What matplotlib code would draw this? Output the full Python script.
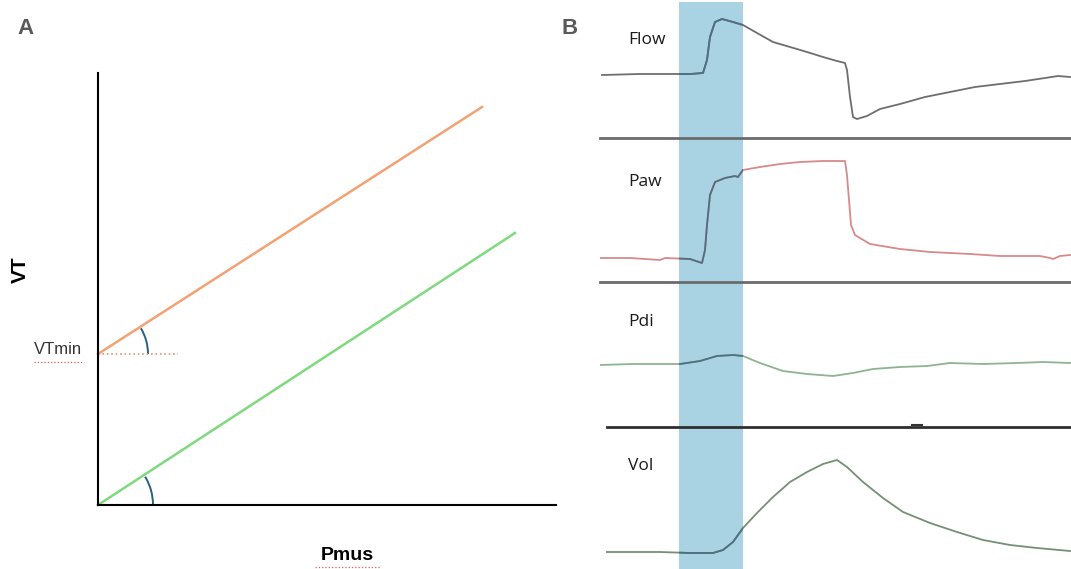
import numpy as np
import matplotlib
matplotlib.use("Agg")
import matplotlib.pyplot as plt
from matplotlib.patches import Arc, Rectangle

# =========================
# DATA
# =========================
# panel A: tidal volume vs muscle pressure (arbitrary units)
pmus_support = [0, 384]
vt_support = [151, 398]
pmus_nosupport = [0, 417]
vt_nosupport = [0, 272]
vtmin = 151

# panel B: ventilator traces (time in samples, amplitude in arbitrary units)
flow_t = [2, 40, 80, 90, 103, 107, 110, 115, 122, 133, 143, 157, 173, 190, 207, 223,
          237, 245, 247, 250, 253, 257, 267, 280, 300, 325, 350, 375, 400, 425,
          445, 458, 470]
flow_v = [63, 64, 64, 64, 65, 78, 101, 116, 119, 116, 113, 105, 96, 91, 86, 81,
          77, 75, 68, 41, 21, 19, 22, 29, 34, 41, 46, 51, 54, 57,
          60, 62, 61]

paw_t = [0, 30, 60, 65, 90, 102, 105, 107, 110, 115, 125, 135, 138, 143, 160, 180,
         200, 223, 245, 247, 249, 251, 255, 270, 300, 330, 370, 400, 440, 450, 453,
         460, 470]
paw_v = [24, 24, 22, 24, 23, 19, 32, 57, 87, 100, 104, 106, 105, 112, 115, 118,
         120, 121, 121, 107, 82, 57, 47, 38, 33, 30, 28, 26, 26, 24, 23,
         26, 27]

pdi_t = [0, 33, 67, 80, 100, 117, 133, 143, 160, 183, 207, 233, 253, 273, 300, 327,
         350, 383, 417, 443, 470]
pdi_v = [62, 63, 63, 63, 66, 71, 72, 71, 64, 56, 53, 51, 54, 58, 60, 61,
         64, 63, 64, 65, 64]

vol_t = [7, 60, 90, 113, 123, 133, 143, 157, 173, 190, 207, 223, 237, 247, 263, 283,
         303, 330, 357, 383, 410, 437, 470]
vol_v = [17, 17, 16, 16, 19, 27, 41, 56, 72, 87, 97, 105, 109, 102, 87, 71,
         57, 46, 37, 29, 24, 21, 18]

traces = [
    ("Flow", flow_t, flow_v, "#6e6e6e"),
    ("Paw", paw_t, paw_v, "#d68a8a"),
    ("Pdi", pdi_t, pdi_v, "#8fb38f"),
    ("Vol", vol_t, vol_v, "#758f75"),
]
trigger_window = (79, 143)

# =========================
# FIGURE
# =========================
W, H = 1071, 569
fig = plt.figure(figsize=(W / 100, H / 100), dpi=100)


def box(left, top, right, bottom):
    return [left / W, 1 - bottom / H, (right - left) / W, (bottom - top) / H]


def fx(x):
    return x / W


def fy(y):
    return 1 - y / H


# ---- panel A ----
ax = fig.add_axes(box(98, 73, 556, 505))
ax.set_xlim(0, 458)
ax.set_ylim(0, 432)
for s in ["top", "right"]:
    ax.spines[s].set_visible(False)
for s in ["left", "bottom"]:
    ax.spines[s].set_linewidth(1.5)
    ax.spines[s].set_color("black")
ax.set_xticks([])
ax.set_yticks([])

ax.plot(pmus_support, vt_support, color="#f2a273", lw=1.8, clip_on=False)
ax.plot(pmus_nosupport, vt_nosupport, color="#7fd97f", lw=1.8, clip_on=False)
ax.plot([0, 80], [vtmin, vtmin], color="#e8946a", lw=1.2, ls=":")

ax.add_patch(Arc((0, vtmin), 100, 100, theta1=0, theta2=31, color="#2b5f7e", lw=1.4))
ax.add_patch(Arc((0, 0), 110, 110, theta1=0, theta2=31, color="#2b5f7e", lw=1.4))

fig.text(fx(25), fy(28), "A", fontsize=16, fontweight="bold", color="#595959",
         ha="center", va="center", family="Liberation Sans")
fig.text(fx(20), fy(270), "VT", fontsize=15, fontweight="bold", rotation=90,
         ha="center", va="center", family="Liberation Sans")
fig.text(fx(58), fy(350), "VTmin", fontsize=12, color="#333333",
         ha="center", va="center", family="Liberation Sans")
fig.text(fx(347), fy(556), "Pmus", fontsize=14, fontweight="bold",
         ha="center", va="center", family="Liberation Sans")

# spell-check style underlines
fig.add_artist(plt.Line2D([fx(34), fx(82)], [fy(362), fy(362)], color="#e05a5a",
                          lw=0.9, ls=":"))
fig.add_artist(plt.Line2D([fx(315), fx(380)], [fy(567), fy(567)], color="#e05a5a",
                          lw=0.9, ls=":"))

# ---- panel B ----
fig.text(fx(570), fy(28), "B", fontsize=16, fontweight="bold", color="#595959",
         ha="center", va="center", family="Liberation Sans")

strips = [(2, 138), (138, 282), (282, 427), (427, 569)]
label_y = [40, 182, 322, 466]

for i, ((top, bottom), (name, t, v, c)) in enumerate(zip(strips, traces)):
    sax = fig.add_axes(box(600, top, 1071, bottom))
    sax.set_xlim(0, 471)
    sax.set_ylim(0, bottom - top)
    sax.axis("off")
    sax.axvspan(*trigger_window, color="#a9d2e3", lw=0, zorder=1)
    sax.plot(t, v, color=c, lw=1.3, zorder=2, solid_joinstyle="round")
    # darker trace where it runs through the shaded window
    inner, = sax.plot(t, v, color="#4f6f82", lw=1.3, zorder=3, solid_joinstyle="round")
    win = Rectangle((trigger_window[0], 0), trigger_window[1] - trigger_window[0],
                    bottom - top, transform=sax.transData)
    inner.set_clip_path(win)
    if i == 2:
        sax.plot([312, 322], [2, 2], color="#333333", lw=1.5, clip_on=False)
    fig.text(fx(628), fy(label_y[i]), name, fontsize=12.5, color="#1a1a1a",
             ha="left", va="center", family="Open Sans")

# strip separators, drawn over every strip
for y, x0, col in [(138, 600, "#6b6b6b"), (282, 600, "#6b6b6b"), (427, 607, "#2f2f2f")]:
    fig.add_artist(plt.Line2D([fx(x0), fx(1071)], [fy(y), fy(y)], color=col, lw=2))

fig.savefig("out.png", dpi=100)
